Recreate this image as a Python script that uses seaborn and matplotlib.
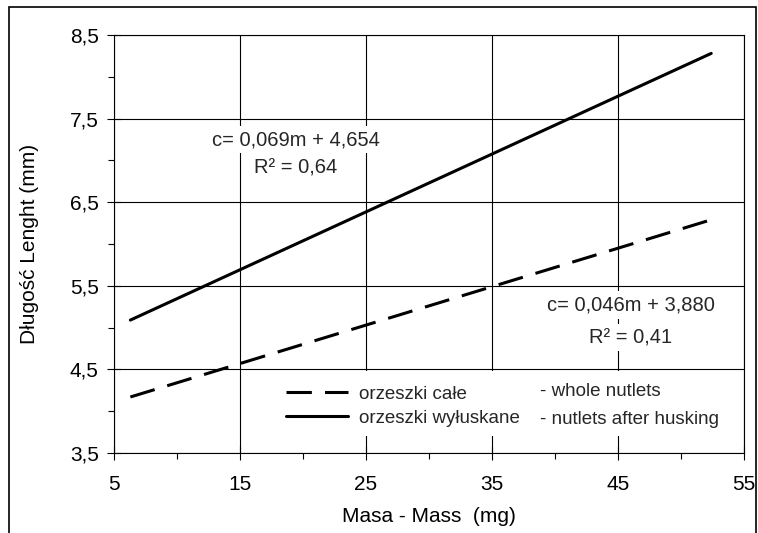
import matplotlib
matplotlib.use("Agg")
import matplotlib.pyplot as plt
import numpy as np
import pandas as pd
import seaborn as sns
from matplotlib.patches import Rectangle
from matplotlib.ticker import MultipleLocator

# ---- data ----
mass_whole = [6.3, 52.4]
length_whole = [4.17, 6.29]
mass_husked = [6.3, 52.4]
length_husked = [5.09, 8.28]
series_labels = ["orzeszki całe", "orzeszki wyłuskane"]
series_desc = ["- whole nutlets", "- nutlets after husking"]
eq_whole = ["c= 0,046m + 3,880", "R² = 0,41"]
eq_husked = ["c= 0,069m + 4,654", "R² = 0,64"]
x_ticks = [5, 15, 25, 35, 45, 55]
y_ticks = [3.5, 4.5, 5.5, 6.5, 7.5, 8.5]
x_label = "Masa - Mass  (mg)"
y_label = "Długość Lenght (mm)"

sns.set_theme(style="white")
plt.rcParams["font.family"] = ["Liberation Sans", "DejaVu Sans"]

fig = plt.figure(figsize=(7.58, 5.33), dpi=100)
ax = fig.add_axes([114 / 758, 1 - 453 / 533, 630 / 758, 418 / 533])

df = pd.DataFrame({
    "mass": mass_whole + mass_husked,
    "length": length_whole + length_husked,
    "series": [series_labels[0]] * len(mass_whole) + [series_labels[1]] * len(mass_husked),
})
sns.lineplot(data=df, x="mass", y="length", style="series", style_order=series_labels,
             dashes={series_labels[0]: (8.3, 4.3), series_labels[1]: ""},
             color="black", linewidth=2.2, legend=False, ax=ax, zorder=4)

ax.set_xlim(5, 55)
ax.set_ylim(3.5, 8.5)
ax.set_xticks(x_ticks)
ax.set_yticks(y_ticks)
ax.set_xticklabels([f"{v:g}".replace(".", ",") for v in x_ticks])
ax.set_yticklabels([f"{v:.1f}".replace(".", ",") for v in y_ticks])
ax.xaxis.set_minor_locator(MultipleLocator(5))
ax.yaxis.set_minor_locator(MultipleLocator(0.5))

ax.grid(True, which="major", color="black", linewidth=0.8)
ax.set_axisbelow(True)
ax.tick_params(which="both", bottom=True, left=True, top=False, right=False, colors="black")
ax.tick_params(which="major", direction="inout", length=10, width=0.8, labelsize=15)
ax.tick_params(which="minor", direction="out", length=4.3, width=0.8)
ax.tick_params(axis="x", which="major", pad=11)
ax.tick_params(axis="y", which="major", pad=6)
for s in ax.spines.values():
    s.set_color("black")
    s.set_linewidth(0.8)

ax.set_xlabel(x_label, fontsize=15, labelpad=9, color="black")
ax.set_ylabel(y_label, fontsize=15, labelpad=22, color="black")

# equation labels
box = dict(facecolor="white", edgecolor="none", pad=3)
ax.text(19.4, 7.25, eq_husked[0], ha="center", va="center", fontsize=14.5, bbox=box, zorder=3)
ax.text(19.4, 6.91, eq_husked[1], ha="center", va="center", fontsize=14.5, bbox=box, zorder=3)
ax.text(46.0, 5.27, eq_whole[0], ha="center", va="center", fontsize=14.5, bbox=box, zorder=3)
ax.text(46.0, 4.88, eq_whole[1], ha="center", va="center", fontsize=14.5, bbox=box, zorder=3)

# legend area
ax.add_patch(Rectangle((0.25, 0.041), 0.725, 0.155, transform=ax.transAxes,
                       facecolor="white", edgecolor="none", zorder=2))
handles = ax.get_lines()[:2]
leg = ax.legend(handles, series_labels, loc="center left", bbox_to_anchor=(0.273, 0.112),
                frameon=False, fontsize=13.5, handlelength=3.3, handletextpad=0.6,
                labelspacing=0.35, borderpad=0, borderaxespad=0)
leg.set_zorder(5)
ax.text(0.676, 0.146, series_desc[0], transform=ax.transAxes, ha="left", va="center",
        fontsize=13.5, zorder=5)
ax.text(0.676, 0.079, series_desc[1], transform=ax.transAxes, ha="left", va="center",
        fontsize=13.5, zorder=5)

# outer frame of the figure
fig.patches.append(Rectangle((9 / 758, -0.05), (756 - 9) / 758, 1.05 - 7 / 533,
                             transform=fig.transFigure, fill=False,
                             edgecolor="black", linewidth=1.2))

fig.savefig("out.png", dpi=100)
